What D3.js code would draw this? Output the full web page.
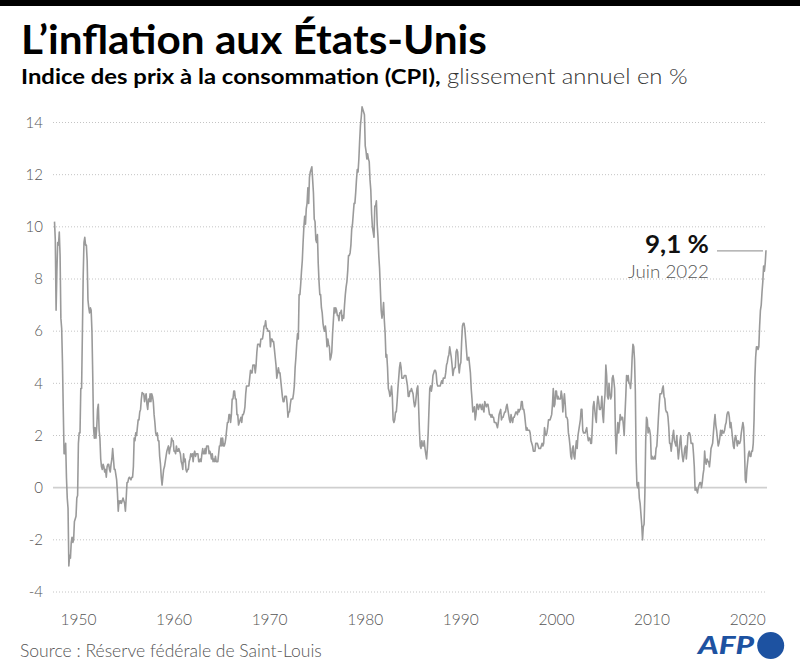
<!DOCTYPE html>
<html>
<head>
<meta charset="utf-8">
<script src="https://cdn.jsdelivr.net/npm/d3@7"></script>
<style>
  html, body { margin: 0; padding: 0; background: #fff; }
  svg { display: block; font-family: Lato, "Noto Sans", sans-serif; }
</style>
</head>
<body>
<svg id="chart" width="800" height="668"></svg>
<script>
// ---- Data (CPI, glissement annuel en %, mensuel, janv. 1948 -> juin 2022) ----
const startYear = 1948;
const inflationMonthly = [
  10.2, 9.5, 6.8, 8.3, 9.4, 9.3, 9.8, 8.9, 6.5, 6.1, 4.8, 3.0,      // 1948
  1.3, 1.3, 1.7, 0.4, -0.4, -0.8, -3.0, -2.6, -2.7, -2.1, -1.9, -2.1, // 1949
  -2.0, -1.3, -1.2, -1.1, -0.4, -0.3, 1.7, 2.1, 2.1, 3.8, 3.8, 5.9,  // 1950
  8.1, 9.4, 9.6, 9.3, 9.3, 8.7, 7.2, 6.9, 6.7, 6.9, 6.8, 6.0,        // 1951
  4.3, 2.3, 1.9, 2.3, 1.9, 2.3, 3.0, 3.2, 2.2, 1.9, 1.1, 0.8,        // 1952
  0.7, 0.9, 0.8, 0.6, 0.7, 0.4, 0.8, 0.9, 0.9, 0.7, 0.6, 0.9,        // 1953
  1.1, 1.5, 1.1, 0.7, 0.7, 0.5, 0.3, -0.2, -0.9, -0.5, -0.6, -0.5,   // 1954
  -0.6, -0.5, -0.4, -0.5, -0.6, -0.9, -0.4, 0.2, 0.2, 0.35, 0.4, 0.35, // 1955
  0.3, 0.4, 0.4, 0.8, 1.9, 1.8, 2.1, 2.0, 2.3, 2.6, 2.6, 2.9,        // 1956
  3.0, 3.4, 3.65, 3.6, 3.6, 3.3, 3.5, 3.6, 3.2, 3.0, 3.4, 3.3,       // 1957
  3.6, 3.3, 3.6, 3.5, 3.3, 2.8, 2.5, 2.1, 2.0, 2.1, 1.8, 1.8,        // 1958
  1.2, 0.9, 0.4, 0.1, 0.4, 0.7, 0.8, 1.0, 1.2, 1.4, 1.5, 1.6,        // 1959
  1.3, 1.5, 1.6, 1.9, 1.8, 1.8, 1.4, 1.4, 1.3, 1.6, 1.4, 1.4,        // 1960
  1.5, 1.4, 1.3, 1.0, 0.9, 0.7, 1.3, 1.0, 1.1, 0.7, 0.6, 0.7,        // 1961
  0.7, 1.0, 1.1, 1.3, 1.2, 1.3, 1.0, 1.3, 1.4, 1.2, 1.3, 1.3,        // 1962
  1.3, 1.0, 1.0, 1.1, 1.0, 1.3, 1.5, 1.3, 1.3, 1.5, 1.3, 1.6,        // 1963
  1.6, 1.6, 1.3, 1.4, 1.3, 1.1, 1.3, 1.0, 1.1, 1.0, 1.2, 1.0,        // 1964
  1.0, 1.0, 1.3, 1.6, 1.6, 1.9, 1.6, 1.9, 1.6, 1.6, 1.7, 1.9,        // 1965
  2.2, 2.5, 2.5, 2.8, 2.8, 2.5, 2.8, 3.4, 3.4, 3.7, 3.7, 3.4,        // 1966
  3.4, 2.8, 2.8, 2.4, 2.5, 2.6, 2.7, 2.5, 2.8, 2.8, 2.9, 3.1,        // 1967
  3.6, 3.9, 3.9, 3.9, 3.9, 4.2, 4.5, 4.4, 4.4, 4.7, 4.7, 4.7,        // 1968
  4.4, 4.7, 5.2, 5.5, 5.5, 5.5, 5.4, 5.7, 5.7, 5.7, 5.9, 6.2,        // 1969
  6.2, 6.4, 6.1, 6.1, 6.0, 6.0, 6.0, 5.4, 5.7, 5.7, 5.6, 5.6,        // 1970
  5.3, 5.0, 4.7, 4.2, 4.4, 4.6, 4.4, 4.4, 4.1, 3.8, 3.5, 3.3,        // 1971
  3.3, 3.5, 3.5, 3.5, 3.2, 2.7, 2.9, 2.9, 3.2, 3.4, 3.4, 3.4,        // 1972
  3.6, 3.9, 4.6, 5.0, 5.5, 5.9, 5.7, 7.4, 7.4, 7.8, 8.3, 8.7,        // 1973
  9.4, 10.0, 10.4, 10.1, 10.7, 10.9, 11.5, 10.9, 11.9, 12.1, 12.2, 12.3, // 1974
  11.8, 11.3, 10.3, 10.2, 9.5, 9.4, 9.7, 8.6, 7.9, 7.4, 7.4, 6.9,    // 1975
  6.7, 6.3, 6.1, 6.0, 6.2, 5.9, 5.4, 5.7, 5.5, 5.4, 4.9, 5.0,        // 1976
  5.2, 5.9, 6.4, 6.9, 6.7, 6.9, 6.8, 6.6, 6.6, 6.4, 6.7, 6.7,        // 1977
  6.8, 6.4, 6.6, 6.5, 7.0, 7.4, 7.7, 7.9, 8.3, 8.9, 8.9, 9.0,        // 1978
  9.3, 9.9, 10.1, 10.5, 10.9, 10.9, 11.3, 11.8, 12.2, 12.1, 12.6, 13.3, // 1979
  13.9, 14.2, 14.6, 14.5, 14.4, 14.3, 13.1, 12.9, 12.6, 12.8, 12.6, 12.5, // 1980
  11.8, 11.4, 10.5, 10.0, 9.8, 9.6, 10.8, 10.8, 11.0, 10.1, 9.6, 8.9, // 1981
  8.4, 7.6, 6.8, 6.5, 6.7, 7.1, 6.4, 5.9, 5.0, 5.1, 4.6, 3.8,        // 1982
  3.7, 3.5, 3.6, 3.9, 3.5, 2.6, 2.5, 2.6, 2.9, 2.9, 3.3, 3.8,        // 1983
  4.2, 4.6, 4.8, 4.6, 4.2, 4.2, 4.2, 4.3, 4.3, 4.3, 4.1, 3.9,        // 1984
  3.5, 3.5, 3.7, 3.7, 3.8, 3.7, 3.6, 3.3, 3.1, 3.2, 3.5, 3.8,        // 1985
  3.9, 3.1, 2.2, 1.6, 1.5, 1.8, 1.6, 1.6, 1.8, 1.5, 1.3, 1.1,        // 1986
  1.5, 2.1, 3.0, 3.8, 3.9, 3.7, 3.9, 4.3, 4.4, 4.5, 4.5, 4.4,        // 1987
  4.0, 3.9, 3.9, 3.9, 3.9, 4.0, 4.1, 4.0, 4.2, 4.2, 4.2, 4.4,        // 1988
  4.7, 4.8, 5.0, 5.1, 5.4, 5.2, 5.0, 4.7, 4.3, 4.5, 4.6, 4.6,        // 1989
  5.2, 5.3, 5.2, 4.7, 4.4, 4.7, 4.8, 5.6, 6.2, 6.3, 6.3, 6.1,        // 1990
  5.7, 5.3, 4.9, 4.9, 5.0, 4.7, 4.4, 3.8, 3.4, 2.9, 3.0, 3.1,        // 1991
  2.6, 2.8, 3.2, 3.2, 3.0, 3.1, 3.2, 3.1, 3.0, 3.2, 3.0, 2.9,        // 1992
  3.3, 3.2, 3.1, 3.2, 3.2, 3.0, 2.8, 2.8, 2.7, 2.8, 2.7, 2.7,        // 1993
  2.5, 2.5, 2.5, 2.4, 2.3, 2.5, 2.8, 2.9, 3.0, 2.6, 2.7, 2.7,        // 1994
  2.8, 2.9, 2.9, 3.1, 3.2, 3.0, 2.8, 2.6, 2.5, 2.8, 2.6, 2.5,        // 1995
  2.7, 2.7, 2.8, 2.9, 2.9, 2.8, 3.0, 2.9, 3.0, 3.0, 3.3, 3.3,        // 1996
  3.0, 3.0, 2.8, 2.5, 2.2, 2.3, 2.2, 2.2, 2.2, 2.1, 1.8, 1.7,        // 1997
  1.6, 1.4, 1.4, 1.4, 1.7, 1.7, 1.7, 1.6, 1.5, 1.5, 1.5, 1.6,        // 1998
  1.7, 1.6, 1.7, 2.3, 2.1, 2.0, 2.1, 2.3, 2.6, 2.6, 2.6, 2.7,        // 1999
  2.8, 3.2, 3.8, 3.1, 3.2, 3.7, 3.7, 3.4, 3.5, 3.4, 3.4, 3.4,        // 2000
  3.7, 3.5, 2.9, 3.3, 3.6, 3.2, 2.7, 2.7, 2.6, 2.1, 1.9, 1.6,        // 2001
  1.2, 1.1, 1.5, 1.6, 1.2, 1.1, 1.5, 1.8, 1.5, 2.0, 2.2, 2.4,        // 2002
  2.6, 3.0, 3.0, 2.2, 2.1, 2.1, 2.1, 2.2, 2.3, 2.0, 1.8, 1.9,        // 2003
  1.9, 1.7, 1.7, 2.3, 3.1, 3.3, 3.0, 2.7, 2.5, 3.2, 3.5, 3.3,        // 2004
  3.0, 3.0, 3.1, 3.5, 2.8, 2.5, 3.2, 3.6, 4.7, 4.3, 3.5, 3.4,        // 2005
  4.0, 3.6, 3.4, 3.5, 4.2, 4.3, 4.1, 3.8, 2.1, 1.3, 2.0, 2.5,        // 2006
  2.1, 2.4, 2.8, 2.6, 2.7, 2.7, 2.4, 2.0, 2.8, 3.5, 4.3, 4.1,        // 2007
  4.3, 4.0, 4.0, 3.8, 4.2, 5.0, 5.5, 5.4, 4.9, 3.7, 1.1, 0.1,        // 2008
  0.0, 0.2, -0.4, -0.6, -1.0, -1.4, -2.0, -1.5, -1.4, -0.2, 1.8, 2.7, // 2009
  2.6, 2.1, 2.3, 2.2, 2.0, 1.1, 1.2, 1.1, 1.1, 1.2, 1.1, 1.5,        // 2010
  1.6, 2.1, 2.7, 3.2, 3.6, 3.6, 3.6, 3.8, 3.9, 3.5, 3.4, 3.0,        // 2011
  2.9, 2.9, 2.7, 2.3, 1.7, 1.7, 1.4, 1.7, 2.0, 2.2, 1.8, 1.7,        // 2012
  1.6, 2.0, 1.5, 1.1, 1.4, 1.8, 2.0, 1.5, 1.2, 1.0, 1.2, 1.5,        // 2013
  1.6, 1.1, 1.5, 2.0, 2.1, 2.1, 2.0, 1.7, 1.7, 1.7, 1.3, 0.8,        // 2014
  -0.1, 0.0, -0.1, -0.2, 0.0, 0.1, 0.2, 0.2, 0.0, 0.2, 0.5, 0.7,     // 2015
  1.4, 1.0, 0.9, 1.1, 1.0, 1.0, 0.8, 1.1, 1.5, 1.6, 1.7, 2.1,        // 2016
  2.5, 2.8, 2.4, 2.2, 1.9, 1.6, 1.7, 1.9, 2.2, 2.0, 2.2, 2.1,        // 2017
  2.1, 2.2, 2.4, 2.5, 2.8, 2.9, 2.9, 2.7, 2.3, 2.5, 2.2, 1.9,        // 2018
  1.6, 1.5, 1.9, 2.0, 1.8, 1.6, 1.8, 1.7, 1.7, 1.8, 2.1, 2.3,        // 2019
  2.5, 2.3, 1.5, 0.3, 0.2, 0.7, 1.0, 1.3, 1.4, 1.2, 1.2, 1.4,        // 2020
  1.4, 1.7, 2.6, 4.2, 5.0, 5.4, 5.4, 5.3, 5.4, 6.2, 6.8, 7.0,        // 2021
  7.5, 7.9, 8.5, 8.3, 8.6, 9.1                                       // 2022
];
const yTicks = [-4, -2, 0, 2, 4, 6, 8, 10, 12, 14];
const xTickYears = [1950, 1960, 1970, 1980, 1990, 2000, 2010, 2020];
const titleText = "L\u2019inflation aux États-Unis";
const subtitleBold = "Indice des prix à la consommation (CPI),";
const subtitleLight = " glissement annuel en %";
const sourceText = "Source : Réserve fédérale de Saint-Louis";
const lastLabelValue = "9,1 %";
const lastLabelDate = "Juin 2022";

// ---- Drawing ----
const svg = d3.select("#chart");
const lastT = startYear + (inflationMonthly.length - 1) / 12;

const x = d3.scaleLinear().domain([startYear, lastT]).range([54.5, 766]);
const y = d3.scaleLinear().domain([-4, 14]).range([592, 122.5]);

// top black band
svg.append("rect").attr("x", 0).attr("y", 0).attr("width", 800).attr("height", 6).attr("fill", "#000");

function fitWidth(sel, tx, ty, target) {
  const w = sel.node().getComputedTextLength();
  sel.attr("transform", `translate(${tx},${ty}) scale(${target / w},1)`);
}

// title
const title = svg.append("text")
  .attr("x", 0).attr("y", 0)
  .attr("font-size", 41).attr("font-weight", 700).attr("fill", "#000")
  .text(titleText);
fitWidth(title, 21, 53.5, 466);

// subtitle
const sub = svg.append("text").attr("x", 0).attr("y", 0).attr("font-size", 21);
sub.append("tspan").attr("font-weight", 700).attr("fill", "#000").text(subtitleBold);
sub.append("tspan").attr("font-weight", 300).attr("fill", "#333").text(subtitleLight);
{
  const w = sub.node().getBBox().width;
  sub.attr("transform", `translate(21,83.5) scale(${667 / w},1)`);
}

// gridlines
const grid = svg.append("g");
grid.selectAll("line")
  .data(yTicks.filter(d => d !== 0))
  .join("line")
  .attr("x1", 53).attr("x2", 767)
  .attr("y1", d => y(d)).attr("y2", d => y(d))
  .attr("stroke", "#c4c4c4").attr("stroke-width", 1)
  .attr("stroke-dasharray", "1,2");

// y labels
svg.append("g").selectAll("text")
  .data(yTicks)
  .join("text")
  .attr("x", 43).attr("y", d => y(d)).attr("dy", "0.35em")
  .attr("text-anchor", "end")
  .attr("font-size", 15).attr("font-weight", 300).attr("fill", "#555")
  .text(d => d);

// zero line
svg.append("line")
  .attr("x1", 53).attr("x2", 767)
  .attr("y1", y(0)).attr("y2", y(0))
  .attr("stroke", "#cfcfcf").attr("stroke-width", 1.6);

// x labels
svg.append("g").selectAll("text")
  .data(xTickYears)
  .join("text")
  .attr("x", d => x(d + 0.5)).attr("y", 625)
  .attr("text-anchor", "middle")
  .attr("font-size", 15.5).attr("font-weight", 300).attr("fill", "#555")
  .text(d => d);

// data line
const line = d3.line()
  .x((d, i) => x(startYear + i / 12))
  .y(d => y(d));
svg.append("path")
  .datum(inflationMonthly)
  .attr("d", line)
  .attr("fill", "none")
  .attr("stroke", "#9a9a9a")
  .attr("stroke-width", 1.6)
  .attr("stroke-linejoin", "round");

// annotation
const lastVal = inflationMonthly[inflationMonthly.length - 1];
svg.append("line")
  .attr("x1", 717).attr("x2", x(lastT) - 3)
  .attr("y1", y(lastVal) + 0.5).attr("y2", y(lastVal) + 0.5)
  .attr("stroke", "#a0a0a0").attr("stroke-width", 1.2);
const annV = svg.append("text").attr("x", 0).attr("y", 0)
  .attr("font-size", 24).attr("font-weight", 700).attr("fill", "#111")
  .text(lastLabelValue);
fitWidth(annV, 645, 253, 64);
const annD = svg.append("text").attr("x", 0).attr("y", 0)
  .attr("font-size", 17).attr("font-weight", 300).attr("fill", "#555")
  .text(lastLabelDate);
fitWidth(annD, 628, 278, 81);

// source
const src = svg.append("text").attr("x", 0).attr("y", 0)
  .attr("font-size", 17).attr("font-weight", 300).attr("fill", "#555")
  .text(sourceText);
fitWidth(src, 20, 657, 302);

// AFP logo
const afp = svg.append("text").attr("x", 0).attr("y", 0)
  .attr("font-size", 24).attr("font-weight", 900).attr("font-style", "italic")
  .attr("fill", "#1d52a1")
  .text("AFP");
fitWidth(afp, 698, 654, 56);
svg.append("circle").attr("cx", 770.7).attr("cy", 645.5).attr("r", 13.5).attr("fill", "#1d52a1");
</script>
</body>
</html>
